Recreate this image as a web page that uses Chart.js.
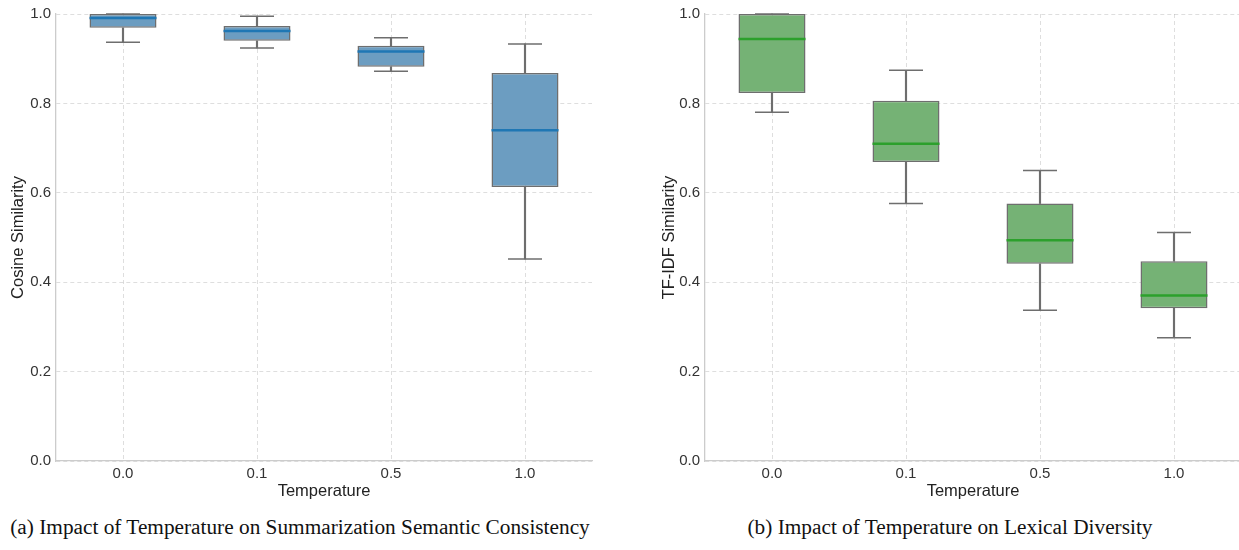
<!DOCTYPE html>
<html>
<head>
<meta charset="utf-8">
<script src="https://cdn.jsdelivr.net/npm/chart.js@4/dist/chart.umd.min.js"></script>
<style>
  html, body { margin: 0; padding: 0; background: #fff; width: 1239px; height: 550px; overflow: hidden; position: relative; }
  canvas { position: absolute; top: 0; }
  .cap { position: absolute; top: 515px; font-family: 'Liberation Serif', 'Times New Roman', serif; font-size: 21.3px; color: #111; white-space: nowrap; transform: translateX(-50%); }
</style>
</head>
<body>
<canvas id="c1" width="620" height="501" style="left:0px;width:620px;height:501px;"></canvas>
<canvas id="c2" width="600" height="501" style="left:651px;width:600px;height:501px;"></canvas>
<div class="cap" style="left:300px;">(a) Impact of Temperature on Summarization Semantic Consistency</div>
<div class="cap" style="left:950px;">(b) Impact of Temperature on Lexical Diversity</div>
<script>
// ---- Data ----
const temperatures = ['0.0', '0.1', '0.5', '1.0'];
const yTicks = [0.0, 0.2, 0.4, 0.6, 0.8, 1.0];

// (a) Cosine similarity box statistics
const cosMin = [0.937, 0.924, 0.872, 0.452];
const cosQ1  = [0.969, 0.940, 0.882, 0.613];
const cosMed = [0.991, 0.962, 0.916, 0.740];
const cosQ3  = [1.000, 0.973, 0.929, 0.868];
const cosMax = [1.000, 0.995, 0.947, 0.933];

// (b) TF-IDF similarity box statistics
const tfMin = [0.780, 0.576, 0.337, 0.276];
const tfQ1  = [0.823, 0.669, 0.441, 0.342];
const tfMed = [0.944, 0.710, 0.494, 0.370];
const tfQ3  = [1.000, 0.806, 0.576, 0.447];
const tfMax = [1.000, 0.874, 0.650, 0.511];

const FONT = "'Liberation Sans', Arial, sans-serif";
const EDGE = '#6e6e6e';

function boxDatasets(mn, q1, med, q3, mx, fill, medColor) {
  const pair = (a, b) => a.map((v, i) => [v, b[i]]);
  const common = { grouped: false, clip: false, categoryPercentage: 1 };
  return [
    Object.assign({ type: 'bar', data: pair(q1, q3), backgroundColor: fill, borderColor: EDGE,
      borderWidth: 1.5, borderSkipped: false, barPercentage: 0.5, order: 4 }, common),
    Object.assign({ type: 'bar', data: pair(mn, q1), backgroundColor: EDGE, borderWidth: 0,
      barThickness: 1.5, order: 3 }, common),
    Object.assign({ type: 'bar', data: pair(q3, mx), backgroundColor: EDGE, borderWidth: 0,
      barThickness: 1.5, order: 3 }, common),
    { type: 'line', data: mn, showLine: false, pointStyle: 'line', pointRadius: 17, pointHoverRadius: 17,
      pointBorderColor: EDGE, pointBorderWidth: 1.5, pointHoverBorderWidth: 1.5, clip: false, order: 2 },
    { type: 'line', data: mx, showLine: false, pointStyle: 'line', pointRadius: 17, pointHoverRadius: 17,
      pointBorderColor: EDGE, pointBorderWidth: 1.5, pointHoverBorderWidth: 1.5, clip: false, order: 2 },
    { type: 'line', data: med, showLine: false, pointStyle: 'line', pointRadius: 33.5, pointHoverRadius: 33.5,
      pointBorderColor: medColor, pointBorderWidth: 2.5, pointHoverBorderWidth: 2.5, clip: false, order: 1 }
  ];
}

function makeChart(id, yTitle, datasets, yWidth, padRight) {
  return new Chart(document.getElementById(id), {
    data: { labels: temperatures, datasets: datasets },
    options: {
      responsive: false,
      animation: false,
      events: [],
      layout: { autoPadding: false, padding: { left: 0, right: padRight, top: 10, bottom: 0 } },
      plugins: { legend: { display: false }, tooltip: { enabled: false } },
      scales: {
        x: {
          type: 'category',
          offset: true,
          afterFit: (axis) => { axis.height = 40; },
          grid: { display: true, offset: false, color: 'rgba(0,0,0,0.13)', lineWidth: 1, drawTicks: false },
          border: { display: true, color: '#cccccc', width: 1.3, dash: [4, 3] },
          ticks: { padding: 4, color: '#333', font: { family: FONT, size: 15 } },
          title: { display: true, text: 'Temperature', color: '#222', padding: { top: 0, bottom: 0 },
                   font: { family: FONT, size: 16.5 } }
        },
        y: {
          min: 0, max: 1,
          afterBuildTicks: (axis) => { axis.ticks = yTicks.map(v => ({ value: v })); },
          afterFit: (axis) => { axis.width = yWidth; },
          grid: { display: true, color: 'rgba(0,0,0,0.13)', lineWidth: 1, drawTicks: false },
          border: { display: true, color: '#cccccc', width: 1.3, dash: [4, 3] },
          ticks: { padding: 5, color: '#333', font: { family: FONT, size: 15 },
                   callback: (v) => Number(v).toFixed(1) },
          title: { display: true, text: yTitle, color: '#222', padding: { top: 9, bottom: 0 },
                   font: { family: FONT, size: 16.5 } }
        }
      }
    }
  });
}

makeChart('c1', 'Cosine Similarity',
  boxDatasets(cosMin, cosQ1, cosMed, cosQ3, cosMax, 'rgb(108,157,193)', '#1f77b4'), 56, 28);
makeChart('c2', 'TF-IDF Similarity',
  boxDatasets(tfMin, tfQ1, tfMed, tfQ3, tfMax, 'rgb(117,178,117)', '#2ca02c'), 54, 10);
</script>
</body>
</html>
